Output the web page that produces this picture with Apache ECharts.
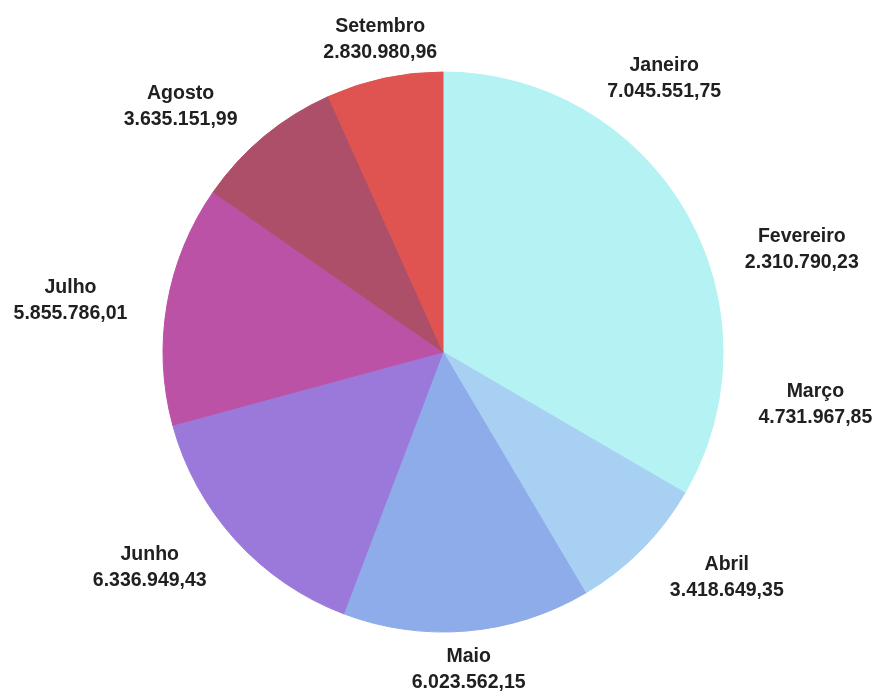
<!DOCTYPE html>
<html>
<head>
<meta charset="utf-8">
<script src="https://cdn.jsdelivr.net/npm/echarts@6/dist/echarts.min.js"></script>
<style>
  html, body { margin: 0; padding: 0; background: #ffffff; }
  #chart { width: 873px; height: 696px; }
</style>
</head>
<body>
<div id="chart"></div>
<script>
// Monthly totals (R$), January to September
const months = ['Janeiro', 'Fevereiro', 'Março', 'Abril', 'Maio', 'Junho', 'Julho', 'Agosto', 'Setembro'];
const totals = [7045551.75, 2310790.23, 4731967.85, 3418649.35, 6023562.15, 6336949.43, 5855786.01, 3635151.99, 2830980.96];
const sliceColors = ['#b4f2f4', '#b4f2f4', '#b4f2f4', '#a7d0f3', '#8eace9', '#9b79da', '#bb52a5', '#ae4f6a', '#df5350'];

// Brazilian number format: 1.234.567,89
function formatBR(v) {
  const parts = v.toFixed(2).split('.');
  return parts[0].replace(/\B(?=(\d{3})+(?!\d))/g, '.') + ',' + parts[1];
}

const chart = echarts.init(document.getElementById('chart'), null, { renderer: 'canvas' });

const PIE_CENTER = [443, 352];
const PIE_RADIUS = 280;
const ANCHOR_GAP = 20;   // distance of the label anchor outside the rim

// Mid angle of a slice, taken from the series layout when available
function sliceGeometry(idx) {
  try {
    const lay = chart.getModel().getSeriesByIndex(0).getData().getItemLayout(idx);
    if (lay && lay.r) {
      return { cx: lay.cx, cy: lay.cy, r: lay.r, mid: (lay.startAngle + lay.endAngle) / 2 };
    }
  } catch (e) { /* fall through */ }
  const sum = totals.reduce((a, b) => a + b, 0);
  let acc = 0;
  for (let i = 0; i < idx; i++) acc += totals[i];
  const start = -Math.PI / 2 + acc / sum * Math.PI * 2;
  const end = start + totals[idx] / sum * Math.PI * 2;
  return { cx: PIE_CENTER[0], cy: PIE_CENTER[1], r: PIE_RADIUS, mid: (start + end) / 2 };
}

// Eight-sector label alignment around the pie
function placeLabel(params) {
  const g = sliceGeometry(params.dataIndex);
  const dx = Math.cos(g.mid), dy = Math.sin(g.mid);
  const ax0 = g.cx + (g.r + ANCHOR_GAP) * dx;
  const ay0 = g.cy + (g.r + ANCHOR_GAP) * dy;
  let deg = Math.atan2(-dy, dx) * 180 / Math.PI;
  if (deg < 0) deg += 360;
  let sx, sy;
  if (deg <= 22.5 || deg >= 337.5) { sx = 1; sy = 0; }
  else if (deg < 67.5) { sx = 1; sy = -1; }
  else if (deg < 112.5) { sx = 0; sy = -1; }
  else if (deg <= 157.5) { sx = -1; sy = -1; }
  else if (deg <= 202.5) { sx = -1; sy = 0; }
  else if (deg < 247.5) { sx = -1; sy = 1; }
  else if (deg < 292.5) { sx = 0; sy = 1; }
  else { sx = 1; sy = 1; }
  // spacing between anchor and text box (line boxes are taller than glyphs)
  const padX = sy === 0 ? 20 : 14;
  const padY = sx === 0 ? -7 : -12;
  const w = params.labelRect.width, h = params.labelRect.height;
  return {
    x: ax0 + sx * (w / 2 + padX),
    y: ay0 + sy * (h / 2 + padY),
    align: 'center',
    verticalAlign: 'middle'
  };
}

const option = {
  backgroundColor: '#ffffff',
  animation: false,
  series: [{
    type: 'pie',
    center: PIE_CENTER,
    radius: PIE_RADIUS,
    startAngle: 90,
    clockwise: true,
    avoidLabelOverlap: false,
    silent: true,
    data: months.map((m, i) => ({
      name: m,
      value: totals[i],
      itemStyle: { color: sliceColors[i], borderColor: sliceColors[i], borderWidth: 1 }
    })),
    label: {
      show: true,
      position: 'outside',
      formatter: p => p.name + '\n' + formatBR(p.value),
      fontFamily: 'Liberation Sans',
      fontWeight: 'bold',
      fontSize: 19.5,
      lineHeight: 26,
      color: '#202020',
      align: 'center'
    },
    labelLine: { show: false },
    labelLayout: placeLabel
  }]
};

chart.setOption(option);
</script>
</body>
</html>
